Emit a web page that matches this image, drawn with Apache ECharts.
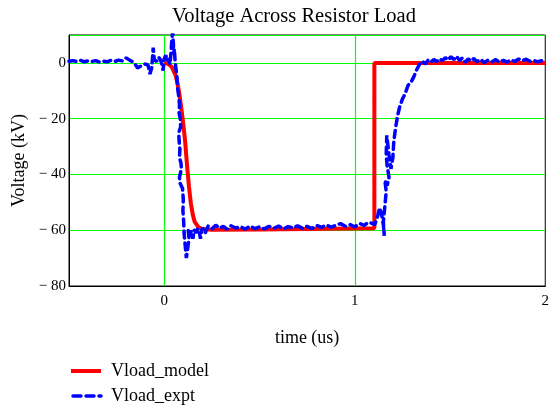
<!DOCTYPE html>
<html>
<head>
<meta charset="utf-8">
<style>
  html, body { margin: 0; padding: 0; background: #fff; }
  #chart { width: 552px; height: 411px; }
</style>
<script src="https://cdn.jsdelivr.net/npm/echarts@6/dist/echarts.min.js"></script>
</head>
<body>
<div id="chart"></div>
<script>
// Series names
const seriesNames = ['Vload_model', 'Vload_expt'];

// Model response of the load voltage (time in us, voltage in kV)
const tModel = [0.0, 0.02, 0.04, 0.06, 0.07, 0.08, 0.09, 0.10, 0.11, 0.12, 0.13, 0.14, 0.15, 0.16, 0.18, 0.20, 0.25, 0.50, 1.103, 1.103, 2.0];
const vModel = [0.0, -0.3, -1.5, -4.5, -7.5, -11.5, -16.5, -22, -28.5, -37, -44.5, -50.5, -54.5, -57, -59, -59.6, -59.8, -59.7, -59.3, 0.0, 0.0];

// Measured load voltage
const tExpt = [
  -0.50, -0.48, -0.46, -0.44, -0.42, -0.40, -0.38, -0.36, -0.34, -0.32,
  -0.30, -0.28, -0.26, -0.24, -0.22, -0.20, -0.18, -0.16, -0.14, -0.12,
  -0.10, -0.085, -0.075, -0.065, -0.058, -0.052, -0.04, -0.03, -0.02, -0.012,
  -0.006, 0.000, 0.008, 0.015, 0.022, 0.030, 0.036, 0.040, 0.044, 0.048,
  0.050, 0.053, 0.057, 0.062, 0.066, 0.070, 0.076, 0.080, 0.078, 0.084,
  0.086, 0.076, 0.078, 0.082, 0.080, 0.088, 0.090, 0.080, 0.082, 0.096,
  0.100, 0.098, 0.102, 0.104, 0.108, 0.112, 0.116, 0.124, 0.130, 0.126,
  0.136, 0.142, 0.150, 0.158, 0.166, 0.175, 0.185, 0.19, 0.20, 0.215,
  0.23, 0.25, 0.27, 0.29, 0.31, 0.33, 0.35, 0.375, 0.40, 0.425,
  0.45, 0.475, 0.50, 0.525, 0.55, 0.575, 0.60, 0.625, 0.65, 0.675,
  0.70, 0.725, 0.75, 0.775, 0.80, 0.825, 0.85, 0.875, 0.90, 0.925,
  0.95, 0.975, 1.00, 1.025, 1.05, 1.07, 1.09, 1.105, 1.115, 1.12,
  1.13, 1.14, 1.15, 1.155, 1.15, 1.16, 1.165, 1.158, 1.17, 1.18,
  1.17, 1.165, 1.168, 1.18, 1.19, 1.20, 1.205, 1.215, 1.225, 1.235,
  1.25, 1.265, 1.28, 1.295, 1.31, 1.325, 1.34, 1.355, 1.37, 1.385,
  1.40, 1.415, 1.43, 1.445, 1.46, 1.475, 1.49, 1.505, 1.52, 1.535,
  1.55, 1.565, 1.58, 1.595, 1.61, 1.625, 1.64, 1.66, 1.68, 1.70,
  1.72, 1.74, 1.76, 1.78, 1.80, 1.82, 1.84, 1.86, 1.88, 1.90,
  1.92, 1.94, 1.96, 1.98, 2.00
];
const vExpt = [
  0.6, 0.8, 0.5, 0.9, 0.4, 0.7, 0.5, 0.8, 0.3, 0.6,
  0.4, 0.9, 0.5, 1.0, 0.7, 1.8, 0.9, 0.2, -1.8, -1.0,
  -0.4, -0.8, -4.0, -1.5, 5.5, 1.0, 0.5, 2.0, 1.2, -0.5,
  -2.8, 1.5, 2.8, 0.8, 1.6, -0.5, 4.0, 8.5, 11.0, 7.0,
  3.0, 5.0, 0.5, -2.5, -4.5, -9, -12, -15, -18, -20,
  -23, -25, -28, -31, -34, -36, -38, -41, -43, -45,
  -49, -53, -57, -61, -64, -67, -70, -66, -63, -60,
  -62, -60, -63, -60, -61, -59.5, -61, -63, -59, -61,
  -58.5, -59.5, -58.2, -59.3, -58.6, -59.6, -58.4, -59.2, -58.7, -59.6,
  -58.5, -59.4, -58.8, -59.5, -58.6, -59.3, -58.5, -59.6, -58.7, -59.2,
  -58.4, -59.3, -58.6, -59.4, -58.3, -59.0, -58.1, -58.9, -58.3, -57.6,
  -58.6, -58.0, -58.8, -57.6, -58.3, -57.2, -57.5, -58.0, -57.5, -55,
  -52, -54, -58, -62, -57, -50, -46, -42, -44, -41,
  -37, -33, -26, -33, -38, -34, -28, -23, -19, -16,
  -13, -11, -8, -7, -5, -2.5, -0.5, 0.6, -0.4, 1.0,
  0.3, 1.2, 0.5, 1.5, 0.8, 1.9, 1.0, 2.2, 1.2, 2.4,
  0.8, 1.8, 0.2, 1.4, 0.6, 1.6, 0.4, 1.3, 0.1, 1.0,
  0.4, 1.2, 0.2, 0.9, 0.3, 1.1, 0.5, 1.4, 0.8, 1.3,
  0.6, 0.9, 0.4, 0.8, 0.5
];

// Axis ranges and vertical grid positions
const xRange = [-0.5, 2];
const yRange = [-80, 10];
const xGridLines = [0, 1];

const zip = (xs, ys) => xs.map((x, i) => [x, ys[i]]);
const serif = 'Liberation Serif';
const RED = '#ff0000';
const BLUE = '#0000ff';
const GREEN = '#00ff00';
const exptDash = [7, 5];

const chart = echarts.init(document.getElementById('chart'), null, { renderer: 'canvas' });

// Legend key drawn below the plot: a short line sample next to each name
const legendKey = [
  { type: 'line', shape: { x1: 71, y1: 371, x2: 101, y2: 371 },
    style: { stroke: RED, lineWidth: 4 } },
  { type: 'text', x: 111, y: 371,
    style: { text: seriesNames[0], font: '18px ' + serif, fill: '#000', verticalAlign: 'middle' } },
  { type: 'line', shape: { x1: 73, y1: 396, x2: 101, y2: 396 },
    style: { stroke: BLUE, lineWidth: 3.5, lineDash: [8, 5], lineCap: 'round' } },
  { type: 'text', x: 111, y: 396,
    style: { text: seriesNames[1], font: '18px ' + serif, fill: '#000', verticalAlign: 'middle' } }
];

chart.setOption({
  animation: false,
  backgroundColor: '#ffffff',
  title: {
    text: 'Voltage Across Resistor Load',
    left: 167,
    top: 1,
    textStyle: { fontFamily: serif, fontSize: 20.5, fontWeight: 'normal', color: '#000' }
  },
  graphic: legendKey,
  grid: {
    left: 69, right: 3, top: 35, bottom: 125,
    show: true, borderColor: '#000', borderWidth: 1
  },
  xAxis: {
    type: 'value',
    min: xRange[0], max: xRange[1], interval: 0.5,
    name: 'time (us)',
    nameLocation: 'middle',
    nameGap: 43,
    nameTextStyle: { fontFamily: serif, fontSize: 18, color: '#000' },
    axisLine: { show: true, onZero: false, lineStyle: { color: '#000', width: 1 } },
    axisTick: { show: false },
    splitLine: { show: false },
    axisLabel: {
      margin: 8,
      fontFamily: serif, fontSize: 15, color: '#000',
      formatter: v => (Math.abs(v - Math.round(v)) < 1e-9 ? String(Math.round(v)) : '')
    }
  },
  yAxis: {
    type: 'value',
    min: yRange[0], max: yRange[1], interval: 20,
    name: 'Voltage (kV)',
    nameLocation: 'middle',
    nameGap: 41,
    nameTextStyle: { fontFamily: serif, fontSize: 18, color: '#000' },
    axisLine: { show: true, onZero: false, lineStyle: { color: '#000', width: 1 } },
    axisTick: { show: false },
    splitLine: { show: true, lineStyle: { color: GREEN, width: 1 } },
    axisLabel: {
      margin: 3,
      showMaxLabel: false,
      fontFamily: serif, fontSize: 15, color: '#000',
      formatter: v => (v < 0 ? '\u2212 ' + Math.abs(v) : String(v))
    }
  },
  series: [
    {
      name: seriesNames[0],
      type: 'line',
      data: zip(tModel, vModel),
      showSymbol: false,
      symbol: 'none',
      z: 3,
      lineStyle: { color: RED, width: 4 },
      itemStyle: { color: RED },
      markLine: {
        silent: true,
        symbol: 'none',
        label: { show: false },
        emphasis: { disabled: true },
        lineStyle: { color: GREEN, width: 1.2, type: 'solid', opacity: 1 },
        z: 1,
        data: xGridLines.map(x => ({ xAxis: x }))
      }
    },
    {
      name: seriesNames[1],
      type: 'line',
      data: zip(tExpt, vExpt),
      showSymbol: false,
      symbol: 'none',
      z: 4,
      lineStyle: { color: BLUE, width: 3.5, type: exptDash, cap: 'round' },
      itemStyle: { color: BLUE }
    }
  ]
});
</script>
</body>
</html>
